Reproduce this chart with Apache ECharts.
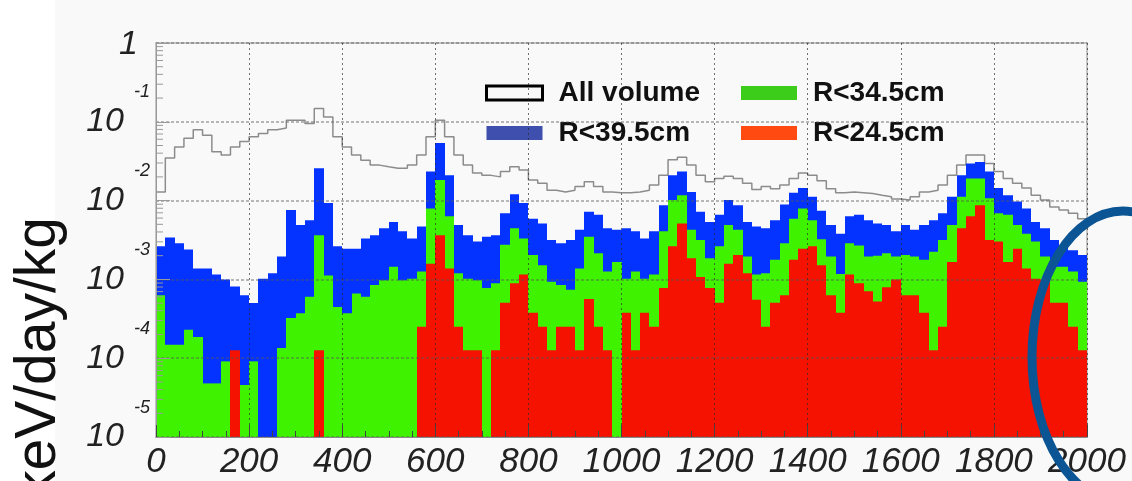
<!DOCTYPE html>
<html>
<head>
<meta charset="utf-8">
<script src="https://cdn.jsdelivr.net/npm/echarts@6/dist/echarts.min.js"></script>
<style>
  html, body { margin: 0; padding: 0; background: #f9f9f9; }
  #chart { width: 1132px; height: 481px; }
</style>
</head>
<body>
<div id="chart"></div>
<script>
// Energy spectrum, 20 keV bins from 0 to 2000 keV (rate in keV/day/kg)
var binWidth = 20;
var energyMin = 0;
var energyMax = 2000;
var rateMin = 1e-5;
var rateMax = 1;

var seriesNames = ['All volume', 'R<39.5cm', 'R<34.5cm', 'R<24.5cm'];

var allVolume = [
  1.29e-2, 3.47e-2, 4.79e-2, 6.17e-2, 7.94e-2, 6.76e-2, 4.17e-2, 3.80e-2, 4.79e-2, 5.62e-2,
  6.46e-2, 7.08e-2, 7.94e-2, 8.32e-2, 1.05e-1, 1.05e-1, 9.55e-2, 1.48e-1, 1.15e-1, 6.46e-2,
  4.79e-2, 3.80e-2, 3.24e-2, 2.82e-2, 2.69e-2, 2.57e-2, 2.57e-2, 2.82e-2, 3.80e-2, 6.46e-2,
  1.05e-1, 6.46e-2, 3.80e-2, 2.82e-2, 2.24e-2, 2.09e-2, 2.00e-2, 2.34e-2, 2.69e-2, 2.45e-2,
  1.82e-2, 1.66e-2, 1.35e-2, 1.29e-2, 1.35e-2, 1.51e-2, 1.74e-2, 1.51e-2, 1.29e-2, 1.26e-2,
  1.26e-2, 1.29e-2, 1.35e-2, 1.58e-2, 2.09e-2, 3.31e-2, 3.55e-2, 2.82e-2, 2.09e-2, 1.74e-2,
  1.91e-2, 2.04e-2, 1.91e-2, 1.66e-2, 1.38e-2, 1.51e-2, 1.41e-2, 1.58e-2, 1.91e-2, 2.24e-2,
  2.09e-2, 1.78e-2, 1.41e-2, 1.26e-2, 1.29e-2, 1.26e-2, 1.23e-2, 1.17e-2, 1.12e-2, 1.05e-2,
  1.02e-2, 1.12e-2, 1.29e-2, 1.35e-2, 1.58e-2, 2.09e-2, 2.82e-2, 3.80e-2, 3.80e-2, 2.95e-2,
  2.34e-2, 1.91e-2, 1.66e-2, 1.45e-2, 1.17e-2, 1.02e-2, 8.32e-3, 7.59e-3, 6.92e-3, 5.89e-3
];

var rBelow395 = [
  2.63e-3, 3.39e-3, 2.88e-3, 2.40e-3, 1.38e-3, 1.38e-3, 1.15e-3, 1.00e-3, 8.13e-4, 6.31e-4,
  5.01e-4, 1.02e-3, 1.20e-3, 1.95e-3, 7.59e-3, 4.90e-3, 5.62e-3, 2.57e-2, 9.33e-3, 2.63e-3,
  2.45e-3, 2.45e-3, 3.31e-3, 3.63e-3, 4.47e-3, 5.37e-3, 4.07e-3, 3.31e-3, 4.68e-3, 2.34e-2,
  5.37e-2, 2.09e-2, 4.90e-3, 3.63e-3, 3.02e-3, 3.47e-3, 3.63e-3, 6.92e-3, 1.20e-2, 9.33e-3,
  5.89e-3, 5.13e-3, 3.16e-3, 2.88e-3, 3.16e-3, 4.27e-3, 7.24e-3, 6.61e-3, 4.47e-3, 4.27e-3,
  4.47e-3, 4.07e-3, 3.31e-3, 4.07e-3, 8.71e-3, 2.09e-2, 2.34e-2, 1.29e-2, 7.24e-3, 5.37e-3,
  6.61e-3, 1.02e-2, 8.71e-3, 5.37e-3, 4.68e-3, 4.47e-3, 5.62e-3, 8.91e-3, 1.26e-2, 1.45e-2,
  1.12e-2, 7.41e-3, 4.90e-3, 3.80e-3, 6.31e-3, 6.61e-3, 5.62e-3, 5.13e-3, 4.90e-3, 4.07e-3,
  4.90e-3, 4.27e-3, 4.90e-3, 5.62e-3, 6.92e-3, 1.12e-2, 2.09e-2, 2.95e-2, 3.09e-2, 2.34e-2,
  1.45e-2, 1.17e-2, 9.77e-3, 7.94e-3, 5.37e-3, 4.47e-3, 3.16e-3, 2.63e-3, 2.34e-3, 2.04e-3
];

var rBelow345 = [
  6.31e-4, 1.48e-4, 1.48e-4, 2.29e-4, 1.86e-4, 4.79e-5, 4.79e-5, 9.12e-5, 9.12e-5, 4.57e-5,
  9.12e-5, 0,       0,       1.35e-4, 3.24e-4, 3.72e-4, 6.03e-4, 3.63e-3, 1.12e-3, 4.47e-4,
  3.72e-4, 6.61e-4, 6.03e-4, 8.51e-4, 9.77e-4, 1.45e-3, 9.77e-4, 1.02e-3, 1.26e-3, 7.94e-3,
  1.82e-2, 6.31e-3, 1.20e-3, 1.02e-3, 9.77e-4, 7.76e-4, 8.91e-4, 2.75e-3, 4.47e-3, 3.31e-3,
  2.04e-3, 1.51e-3, 9.33e-4, 8.51e-4, 7.41e-4, 1.38e-3, 3.47e-3, 2.14e-3, 1.26e-3, 1.66e-3,
  1.02e-3, 1.26e-3, 1.02e-3, 1.15e-3, 4.07e-3, 1.02e-2, 1.17e-2, 4.27e-3, 3.16e-3, 1.86e-3,
  2.63e-3, 4.90e-3, 4.27e-3, 1.95e-3, 1.15e-3, 1.20e-3, 1.78e-3, 2.88e-3, 5.89e-3, 7.94e-3,
  5.62e-3, 3.24e-3, 1.95e-3, 1.17e-3, 2.88e-3, 2.69e-3, 1.95e-3, 2.00e-3, 2.14e-3, 1.95e-3,
  2.04e-3, 1.95e-3, 1.78e-3, 2.24e-3, 3.16e-3, 4.90e-3, 1.12e-2, 1.91e-2, 1.91e-2, 1.07e-2,
  6.92e-3, 6.61e-3, 4.90e-3, 3.80e-3, 3.02e-3, 1.95e-3, 1.45e-3, 1.45e-3, 1.26e-3, 9.33e-4
];

var rBelow245 = [
  0,       0,       0,       0,       0,       0,       0,       0,       1.26e-4, 0,
  0,       0,       0,       0,       0,       0,       0,       1.26e-4, 0,       0,
  0,       0,       0,       0,       0,       0,       0,       0,       2.51e-4, 1.58e-3,
  3.63e-3, 1.38e-3, 2.51e-4, 1.26e-4, 1.26e-4, 0,       1.26e-4, 5.04e-4, 8.91e-4, 1.15e-3,
  3.78e-4, 2.51e-4, 1.26e-4, 2.51e-4, 2.51e-4, 1.26e-4, 5.62e-4, 2.51e-4, 1.26e-4, 0,
  3.78e-4, 1.26e-4, 3.78e-4, 2.51e-4, 7.76e-4, 2.63e-3, 5.13e-3, 1.86e-3, 1.07e-3, 7.76e-4,
  5.04e-4, 1.58e-3, 2.04e-3, 1.20e-3, 5.50e-4, 2.51e-4, 5.04e-4, 6.31e-4, 1.78e-3, 2.45e-3,
  2.63e-3, 1.51e-3, 6.31e-4, 3.78e-4, 1.15e-3, 8.91e-4, 7.08e-4, 5.25e-4, 7.94e-4, 1.00e-3,
  6.31e-4, 6.31e-4, 3.78e-4, 1.26e-4, 2.51e-4, 1.66e-3, 4.47e-3, 6.31e-3, 8.71e-3, 3.16e-3,
  3.02e-3, 1.66e-3, 2.45e-3, 1.38e-3, 1.02e-3, 1.00e-3, 5.04e-4, 5.04e-4, 2.51e-4, 1.26e-4
];

var xTickStep = 200;

// ---------------------------------------------------------------------------
var FONT = '"Liberation Sans", Arial, Helvetica, sans-serif';
var fillColors = { blue: '#0433ff', green: '#3ff200', red: '#f51200' };
var legendColors = { blue: '#3f4fae', green: '#3ccc1a', red: '#ff4b12' };

// lower edge of every bin
var binLow = allVolume.map(function (_, i) { return energyMin + i * binWidth; });

// filled histogram items: [low edge, high edge, rate], empty bins skipped
function histItems(values) {
  var out = [];
  values.forEach(function (v, i) {
    if (v > 0) out.push([binLow[i], binLow[i] + binWidth, v]);
  });
  return out;
}

// outline as a step line through the bin edges
var outlinePoints = allVolume.map(function (v, i) { return [binLow[i], v]; });
outlinePoints.push([energyMax, allVolume[allVolume.length - 1]]);

// log minor tick positions 2..9 x 10^n
var yMinorTicks = [];
for (var e = -5; e < 0; e++) {
  for (var m = 2; m <= 9; m++) yMinorTicks.push(m * Math.pow(10, e));
}

function histRenderItem(params, api) {
  var lo = api.value(0), hi = api.value(1), v = api.value(2);
  var top = api.coord([lo, v]);
  var base = api.coord([hi, rateMin]);
  var x0 = Math.round(top[0]), x1 = Math.round(base[0]);
  return {
    type: 'rect',
    shape: { x: x0, y: top[1], width: x1 - x0, height: base[1] - top[1] },
    style: { fill: api.visual('color') }
  };
}

function minorTickRenderItem(params, api) {
  var p = api.coord([energyMin, api.value(1)]);
  return {
    type: 'line',
    shape: { x1: p[0], y1: p[1], x2: p[0] + 7, y2: p[1] },
    style: { stroke: '#9a9a9a', lineWidth: 1 }
  };
}

function histSeries(name, values, color, z) {
  return {
    name: name,
    type: 'custom',
    renderItem: histRenderItem,
    dimensions: ['lo', 'hi', 'rate'],
    encode: { x: ['lo', 'hi'], y: 'rate' },
    data: histItems(values),
    itemStyle: { color: color },
    clip: true,
    silent: true,
    z: z
  };
}

var chart = echarts.init(document.getElementById('chart'), null, { renderer: 'canvas' });

var legendText = { fontFamily: FONT, fontSize: 28, fontWeight: 'bold', color: '#111', lineHeight: 27, padding: [0, 0, 0, 11] };

var option = {
  backgroundColor: '#f9f9f9',
  animation: false,
  textStyle: { fontFamily: FONT },
  grid: {
    left: 156, right: 45, top: 43, bottom: 44,
    containLabel: false,
    outerBoundsMode: 'none',
    show: true,
    borderColor: '#c4c4c4',
    borderWidth: 2,
    backgroundColor: 'transparent'
  },
  legend: [
    {
      orient: 'vertical', left: 485, top: 79, padding: 0,
      itemWidth: 56, itemHeight: 14, itemGap: 12,
      textStyle: legendText,
      selectedMode: false,
      data: [
        { name: seriesNames[0], icon: 'rect', itemStyle: { color: 'rgba(0,0,0,0)', borderColor: '#000', borderWidth: 3 } },
        { name: seriesNames[1], icon: 'rect', itemStyle: { color: legendColors.blue } }
      ]
    },
    {
      orient: 'vertical', left: 741, top: 79, padding: 0,
      itemWidth: 56, itemHeight: 14, itemGap: 12,
      textStyle: legendText,
      selectedMode: false,
      data: [
        { name: seriesNames[2], icon: 'rect', itemStyle: { color: legendColors.green } },
        { name: seriesNames[3], icon: 'rect', itemStyle: { color: legendColors.red } }
      ]
    }
  ],
  xAxis: {
    type: 'value',
    min: energyMin, max: energyMax, interval: xTickStep,
    z: 10,
    axisLine: { show: true, lineStyle: { color: '#8a8a8a', width: 1 } },
    axisTick: { show: true, inside: true, length: 12, lineStyle: { color: '#444', width: 1 } },
    minorTick: { show: true, splitNumber: 4, length: 6, lineStyle: { color: '#444', width: 1 } },
    splitLine: { show: true, lineStyle: { color: 'rgba(40,40,40,0.65)', width: 1, type: [2, 3] } },
    axisLabel: {
      fontFamily: FONT, fontSize: 35, fontStyle: 'italic', color: '#222', margin: 8,
      showMinLabel: true, showMaxLabel: true,
      formatter: function (v) { return String(v); }
    }
  },
  yAxis: {
    type: 'log', logBase: 10,
    min: rateMin, max: rateMax,
    z: 10,
    axisLine: { show: true, lineStyle: { color: '#9a9a9a', width: 1 } },
    axisTick: { show: true, inside: true, length: 14, lineStyle: { color: '#9a9a9a', width: 1 } },
    splitLine: { show: true, lineStyle: { color: 'rgba(90,90,90,0.55)', width: 1.6, type: [3, 2] } },
    axisLabel: {
      margin: 6,
      color: '#222',
      formatter: function (v) {
        var p = Math.round(Math.log10(v));
        if (p === 0) return '{one|1}';
        return '{b|10}{s|' + p + '}';
      },
      rich: {
        b: { fontFamily: FONT, fontSize: 34, fontStyle: 'italic', color: '#222', lineHeight: 77, verticalAlign: 'middle' },
        s: { fontFamily: FONT, fontSize: 18, fontStyle: 'italic', color: '#222', lineHeight: 18, verticalAlign: 'top', padding: [0, 0, 0, 10] },
        one: { fontFamily: FONT, fontSize: 34, fontStyle: 'italic', color: '#222', lineHeight: 34, padding: [4, 12, 0, 0] }
      }
    }
  },
  graphic: [
    {
      type: 'rect', silent: true, z: -10,
      shape: { x: 0, y: 0, width: 55, height: 481 },
      style: { fill: '#ffffff' }
    },
    {
      type: 'text', silent: true, z: 50,
      x: 39, y: 217, rotation: Math.PI / 2,
      style: {
        text: 'keV/day/kg', font: '57px ' + FONT, fill: '#111',
        align: 'right', verticalAlign: 'middle',
        textAlign: 'right', textVerticalAlign: 'middle'
      }
    },
    {
      type: 'ellipse', silent: true, z: 100,
      shape: { cx: 1123, cy: 357, rx: 91, ry: 146 },
      style: { fill: 'none', stroke: '#0b5595', lineWidth: 9 }
    }
  ],
  series: [
    {
      name: seriesNames[0],
      type: 'line',
      step: 'end',
      data: outlinePoints,
      symbol: 'none',
      clip: true,
      silent: true,
      lineStyle: { color: '#8c8c8c', width: 1.5 },
      itemStyle: { color: '#8c8c8c' },
      z: 1
    },
    histSeries(seriesNames[1], rBelow395, fillColors.blue, 2),
    histSeries(seriesNames[2], rBelow345, fillColors.green, 3),
    histSeries(seriesNames[3], rBelow245, fillColors.red, 4),
    {
      name: 'yMinorTicks',
      type: 'custom',
      renderItem: minorTickRenderItem,
      dimensions: ['x', 'rate'],
      encode: { x: 'x', y: 'rate' },
      data: yMinorTicks.map(function (v) { return [energyMin, v]; }),
      clip: false,
      silent: true,
      z: 11
    }
  ]
};

chart.setOption(option);
</script>
</body>
</html>
